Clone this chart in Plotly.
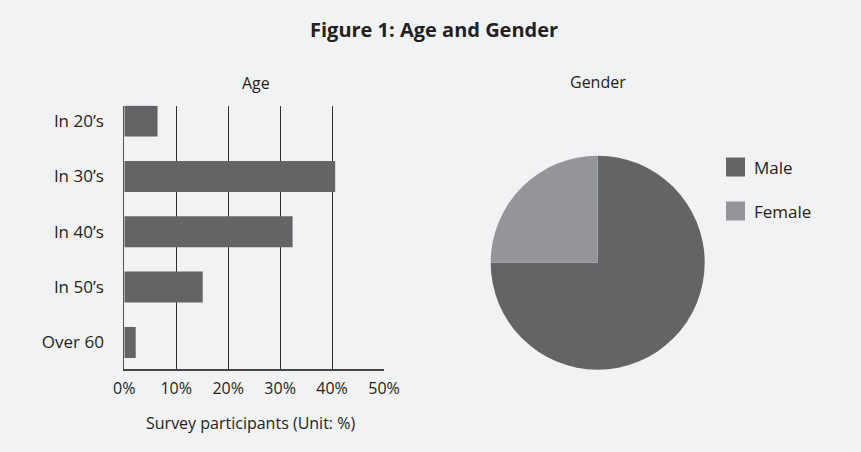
import plotly.graph_objects as go

# ── data ──────────────────────────────────────────────────────────────────────
age_groups   = ["In 20’s", "In 30’s", "In 40’s", "In 50’s", "Over 60"]
age_share    = [6.4, 40.6, 32.4, 15.1, 2.2]          # % of survey participants
x_ticks      = [0, 10, 20, 30, 40, 50]
x_tick_text  = ["0%", "10%", "20%", "30%", "40%", "50%"]

gender_labels = ["Male", "Female"]
gender_share  = [75, 25]

# ── style ─────────────────────────────────────────────────────────────────────
W, H      = 861, 452
BG        = "#f1f2f4"
INK       = "#231f20"
DARK      = "#636466"
LIGHT     = "#939598"
FONT      = "Open Sans, Noto Sans, sans-serif"


def px_x(p):
    return p / W


def px_y(p):
    return 1 - p / H


fig = go.Figure()

fig.add_trace(go.Bar(
    x=age_share, y=age_groups, orientation="h",
    marker=dict(color=DARK, line_width=0), width=0.56,
    showlegend=False, xaxis="x", yaxis="y",
))

fig.add_trace(go.Pie(
    labels=gender_labels, values=gender_share,
    marker=dict(colors=[DARK, LIGHT], line_width=0),
    sort=False, direction="clockwise", rotation=0,
    textinfo="none", hoverinfo="label+percent", showlegend=False,
    domain=dict(x=[px_x(490.7), px_x(704.7)], y=[px_y(369.7), px_y(155.7)]),
))

# hand-drawn legend so the swatch size / spacing match the original
shapes, notes = [], []
for i, (lab, col) in enumerate(zip(gender_labels, [DARK, LIGHT])):
    cy = 167 + i * 44
    shapes.append(dict(type="rect", xref="paper", yref="paper",
                       x0=px_x(726), x1=px_x(745), y0=px_y(cy + 9.5), y1=px_y(cy - 9.5),
                       fillcolor=col, line_width=0))
    notes.append(dict(text=lab, xref="paper", yref="paper", x=px_x(752), y=px_y(cy),
                      xanchor="left", yanchor="middle", showarrow=False,
                      font=dict(size=17, color=INK)))

notes += [
    dict(text="<b>Figure 1: Age and Gender</b>", xref="paper", yref="paper",
         x=px_x(434), y=px_y(30), xanchor="center", yanchor="middle",
         showarrow=False, font=dict(size=20, color=INK)),
    dict(text="Age", xref="paper", yref="paper", x=px_x(256), y=px_y(83),
         xanchor="center", yanchor="middle", showarrow=False,
         font=dict(size=16, color=INK)),
    dict(text="Gender", xref="paper", yref="paper", x=px_x(598), y=px_y(82),
         xanchor="center", yanchor="middle", showarrow=False,
         font=dict(size=16, color=INK)),
    dict(text="Survey participants (Unit: %)", xref="paper", yref="paper",
         x=px_x(250), y=px_y(423), xanchor="center", yanchor="middle",
         showarrow=False, font=dict(size=16, color=INK)),
]

fig.update_layout(
    width=W, height=H, autosize=False,
    margin=dict(l=0, r=0, t=0, b=0, pad=0),
    paper_bgcolor=BG, plot_bgcolor=BG,
    font=dict(family=FONT, size=17, color=INK),
    shapes=shapes, annotations=notes,
    xaxis=dict(domain=[px_x(124.3), px_x(384)], range=[0, 50],
               tickvals=x_ticks, ticktext=x_tick_text, ticks="",
               showgrid=True, gridcolor="#2e2e2e", gridwidth=1,
               showline=True, linecolor="#444444", linewidth=1.5,
               zeroline=False, tickfont=dict(size=16), ticklabelstandoff=4,
               fixedrange=True, automargin=False),
    yaxis=dict(domain=[px_y(369.3), px_y(105.7)], range=[4.485, -0.277],
               type="category", categoryorder="array", categoryarray=age_groups,
               showgrid=False, showline=True, linecolor="#555555", linewidth=1,
               ticks="", ticklabelstandoff=16, zeroline=False,
               tickfont=dict(size=17), fixedrange=True, automargin=False),
    bargap=0.44,
)

fig.write_html("out.html", config={"displayModeBar": False},
               post_script="document.body.style.margin='0';")
